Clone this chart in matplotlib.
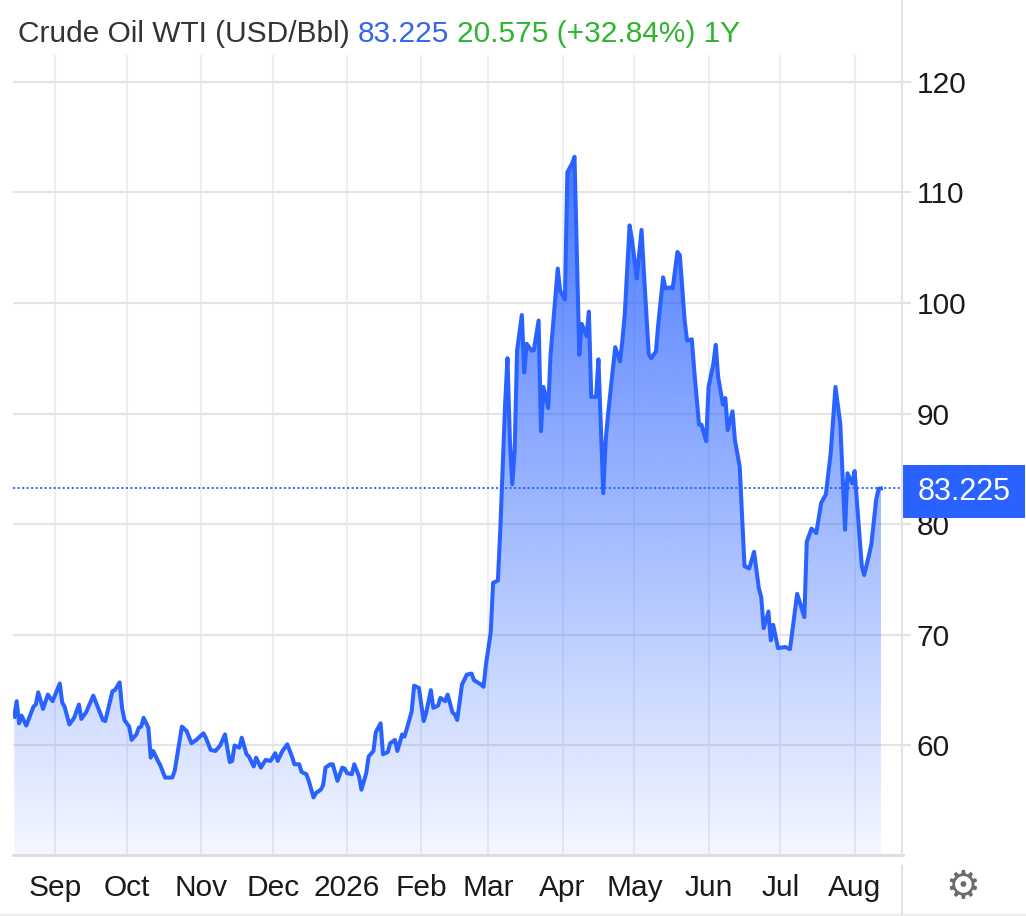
import numpy as np
import pandas as pd
import matplotlib
matplotlib.use("Agg")
import matplotlib.pyplot as plt
import matplotlib.dates as mdates
from matplotlib.transforms import blended_transform_factory
from matplotlib.patches import Rectangle
from matplotlib.lines import Line2D
from matplotlib.colors import to_rgb

plt.rcParams['font.family'] = ['Liberation Sans', 'DejaVu Sans']

# WTI crude, 1 year
dates = [
    "2025-08-15", "2025-08-16", "2025-08-17", "2025-08-18", "2025-08-20", "2025-08-23",
    "2025-08-24", "2025-08-25", "2025-08-27", "2025-08-29", "2025-08-31", "2025-09-03",
    "2025-09-04", "2025-09-05", "2025-09-07", "2025-09-09", "2025-09-11", "2025-09-12",
    "2025-09-14", "2025-09-17", "2025-09-19", "2025-09-21", "2025-09-22", "2025-09-25",
    "2025-09-26", "2025-09-28", "2025-09-29", "2025-09-30", "2025-10-02", "2025-10-03",
    "2025-10-05", "2025-10-06", "2025-10-07", "2025-10-08", "2025-10-10", "2025-10-11",
    "2025-10-12", "2025-10-14", "2025-10-15", "2025-10-17", "2025-10-18", "2025-10-20",
    "2025-10-21", "2025-10-24", "2025-10-26", "2025-10-28", "2025-10-30", "2025-11-02",
    "2025-11-03", "2025-11-05", "2025-11-07", "2025-11-09", "2025-11-11", "2025-11-13",
    "2025-11-14", "2025-11-15", "2025-11-17", "2025-11-18", "2025-11-20", "2025-11-21",
    "2025-11-23", "2025-11-24", "2025-11-26", "2025-11-28", "2025-11-30", "2025-12-02",
    "2025-12-03", "2025-12-05", "2025-12-07", "2025-12-09", "2025-12-10", "2025-12-12",
    "2025-12-13", "2025-12-15", "2025-12-16", "2025-12-18", "2025-12-19", "2025-12-21",
    "2025-12-22", "2025-12-23", "2025-12-25", "2025-12-26", "2025-12-28", "2025-12-30",
    "2025-12-31", "2026-01-01", "2026-01-03", "2026-01-04", "2026-01-06", "2026-01-07",
    "2026-01-09", "2026-01-10", "2026-01-12", "2026-01-13", "2026-01-15", "2026-01-16",
    "2026-01-18", "2026-01-19", "2026-01-21", "2026-01-22", "2026-01-24", "2026-01-25",
    "2026-01-27", "2026-01-28", "2026-01-29", "2026-01-31", "2026-02-02", "2026-02-03",
    "2026-02-05", "2026-02-06", "2026-02-08", "2026-02-09", "2026-02-11", "2026-02-12",
    "2026-02-14", "2026-02-15", "2026-02-16", "2026-02-18", "2026-02-20", "2026-02-22",
    "2026-02-23", "2026-02-26", "2026-02-27", "2026-02-28", "2026-03-02", "2026-03-03",
    "2026-03-05", "2026-03-06", "2026-03-08", "2026-03-09", "2026-03-10", "2026-03-11",
    "2026-03-12", "2026-03-13", "2026-03-15", "2026-03-16", "2026-03-17", "2026-03-19",
    "2026-03-20", "2026-03-22", "2026-03-23", "2026-03-24", "2026-03-26", "2026-03-27",
    "2026-03-29", "2026-03-30", "2026-03-31", "2026-04-02", "2026-04-03", "2026-04-05",
    "2026-04-06", "2026-04-08", "2026-04-09", "2026-04-11", "2026-04-12", "2026-04-13",
    "2026-04-15", "2026-04-16", "2026-04-18", "2026-04-19", "2026-04-20", "2026-04-23",
    "2026-04-25", "2026-04-26", "2026-04-27", "2026-04-29", "2026-04-30", "2026-05-02",
    "2026-05-04", "2026-05-05", "2026-05-07", "2026-05-08", "2026-05-10", "2026-05-11",
    "2026-05-13", "2026-05-14", "2026-05-16", "2026-05-17", "2026-05-19", "2026-05-20",
    "2026-05-22", "2026-05-23", "2026-05-25", "2026-05-26", "2026-05-28", "2026-05-29",
    "2026-05-31", "2026-06-01", "2026-06-03", "2026-06-04", "2026-06-05", "2026-06-07",
    "2026-06-08", "2026-06-09", "2026-06-11", "2026-06-12", "2026-06-14", "2026-06-15",
    "2026-06-16", "2026-06-18", "2026-06-20", "2026-06-22", "2026-06-23", "2026-06-24",
    "2026-06-26", "2026-06-27", "2026-06-28", "2026-06-30", "2026-07-03", "2026-07-05",
    "2026-07-08", "2026-07-11", "2026-07-12", "2026-07-14", "2026-07-16", "2026-07-18",
    "2026-07-20", "2026-07-22", "2026-07-24", "2026-07-26", "2026-07-28", "2026-07-29",
    "2026-07-31", "2026-08-01", "2026-08-04", "2026-08-05", "2026-08-07", "2026-08-08",
    "2026-08-10", "2026-08-11", "2026-08-12",
]
prices = [
    62.6, 64.0, 62.0, 62.7, 61.8, 63.5,
    63.7, 64.8, 63.3, 64.6, 64.0, 65.6,
    63.9, 63.5, 61.9, 62.5, 63.7, 62.4,
    63.0, 64.5, 63.4, 62.3, 62.2, 64.9,
    65.0, 65.7, 63.4, 62.3, 61.7, 60.5,
    61.0, 61.6, 61.7, 62.5, 61.6, 58.9,
    59.5, 58.6, 58.2, 57.1, 57.1, 57.1,
    57.7, 61.7, 61.3, 60.2, 60.5, 61.1,
    60.7, 59.6, 59.5, 60.0, 61.0, 58.5,
    58.6, 60.0, 59.8, 60.7, 59.2, 59.0,
    58.1, 58.9, 58.0, 58.7, 58.6, 59.3,
    58.6, 59.5, 60.1, 59.0, 58.3, 58.3,
    57.6, 57.4, 56.8, 55.3, 55.7, 56.0,
    56.4, 58.0, 58.3, 58.3, 56.8, 58.0,
    57.9, 57.5, 57.4, 58.3, 57.2, 56.0,
    57.5, 59.0, 59.5, 61.2, 62.0, 59.2,
    59.4, 60.2, 60.5, 59.5, 61.0, 60.8,
    62.3, 63.1, 65.4, 65.2, 62.2, 62.9,
    65.0, 63.4, 63.6, 64.3, 64.0, 64.6,
    63.0, 62.8, 62.3, 65.5, 66.4, 66.5,
    65.9, 65.5, 65.3, 67.3, 70.2, 74.7,
    74.9, 79.5, 90.8, 95.0, 87.6, 83.6,
    86.6, 95.7, 98.9, 93.7, 96.3, 95.7,
    95.7, 98.4, 88.4, 92.4, 90.5, 95.3,
    100.5, 103.1, 101.1, 100.3, 111.8, 112.6,
    113.2, 95.3, 98.1, 97.0, 99.2, 91.5,
    91.5, 94.9, 82.8, 87.5, 89.9, 96.0,
    94.7, 96.6, 99.0, 107.0, 105.7, 102.2,
    106.6, 102.7, 95.4, 95.0, 95.6, 98.1,
    102.3, 101.3, 101.4, 101.3, 104.6, 104.3,
    98.4, 96.6, 96.7, 93.9, 89.0, 89.0,
    87.5, 92.4, 94.5, 96.2, 93.3, 90.8,
    91.4, 88.5, 90.2, 87.6, 85.2, 80.7,
    76.2, 76.0, 77.5, 74.2, 73.4, 70.6,
    72.1, 69.5, 70.9, 68.8, 68.9, 68.7,
    73.7, 71.6, 78.4, 79.6, 79.2, 81.9,
    82.7, 86.4, 92.4, 89.1, 79.5, 84.6,
    83.7, 84.8, 76.2, 75.4, 77.2, 78.2,
    82.2, 83.2, 83.225,
]

tick_dates = ["2025-09-01", "2025-10-01", "2025-11-01", "2025-12-01", "2026-01-01", "2026-02-01",
              "2026-03-01", "2026-04-01", "2026-05-01", "2026-06-01", "2026-07-01", "2026-08-01"]
tick_labels = ["Sep", "Oct", "Nov", "Dec", "2026", "Feb", "Mar", "Apr", "May", "Jun", "Jul", "Aug"]
y_ticks = [60, 70, 80, 90, 100, 110, 120]

last_price = 83.225
title_parts = [("Crude Oil WTI (USD/Bbl)", "#333333"),
               ("83.225", "#3366ee"),
               ("20.575 (+32.84%) 1Y", "#2db52d")]

blue = "#2962ff"
W, H = 1026, 916

fig = plt.figure(figsize=(W / 100, H / 100), dpi=100)
ax = fig.add_axes([13 / W, 61 / H, 890 / W, 800 / H])

xnum = mdates.date2num(pd.to_datetime(dates))
ybot, ytop = 50.1, 122.4

# gradient fill under the line
poly = ax.fill_between(xnum, prices, ybot, facecolor="none", edgecolor="none")
g = np.linspace(0, 1, 256)
rgba = np.zeros((256, 1, 4))
rgba[..., :3] = to_rgb(blue)
rgba[..., 3] = (0.05 + 0.82 * g)[:, None]
im = ax.imshow(rgba, extent=[xnum.min(), xnum.max(), ybot, 113.5],
               origin="lower", aspect="auto", zorder=1, interpolation="bilinear")
im.set_clip_path(poly.get_paths()[0], ax.transData)

ax.plot(xnum, prices, color=blue, lw=2.9, solid_joinstyle="round", zorder=3)
ax.axhline(last_price, color=blue, lw=1.3, ls=(0, (1.2, 1.3)), zorder=2)

ax.set_xlim(mdates.date2num(pd.Timestamp("2025-08-14 11:00")),
            mdates.date2num(pd.Timestamp("2026-08-21 05:00")))
ax.set_ylim(ybot, ytop)

ax.set_xticks(mdates.date2num(pd.to_datetime(tick_dates)))
ax.set_xticklabels(tick_labels)
ax.set_yticks(y_ticks)
ax.yaxis.tick_right()
ax.tick_params(axis="x", length=0, pad=14, labelsize=21.5, labelcolor="#1a1a1a")
ax.tick_params(axis="y", length=6, width=1.5, color="#e2e2e2", pad=4,
               labelsize=21.5, labelcolor="#1a1a1a")

ax.set_axisbelow(True)
ax.grid(axis="y", color="#e4e4e4", lw=1.5)
ax.grid(axis="x", color="#eceef4", lw=1.5)
for s in ["top", "left", "right"]:
    ax.spines[s].set_visible(False)
ax.spines["bottom"].set_color("#dcdcdc")
ax.spines["bottom"].set_linewidth(2)

# last price box on the right axis
tr = blended_transform_factory(ax.transAxes, ax.transData)
box_h = 4.8
ax.add_patch(Rectangle((1.0, last_price - 2.7), 122 / 890, box_h, transform=tr,
                       facecolor=blue, edgecolor="none", clip_on=False, zorder=10))
ax.text(1.0 + 61 / 890, last_price - 0.3, f"{last_price:.3f}", transform=tr,
        color="white", fontsize=22, ha="center", va="center", zorder=11, clip_on=False)

# frame lines around the plot area
sep_x = 902 / W
fig.add_artist(Line2D([sep_x, sep_x], [1, 61 / H], color="#e3e3e3", lw=1.5))
fig.add_artist(Line2D([sep_x, sep_x], [50 / H, 0], color="#e3e3e3", lw=1.5))
fig.add_artist(Line2D([0, 1], [1.5 / H, 1.5 / H], color="#ececec", lw=1.5))

fig.text(963 / W, 1 - 887 / H, "\u2699", fontsize=28, color="#6b6b6b",
         ha="center", va="center", family="DejaVu Sans")

# title in coloured pieces
renderer = fig.canvas.get_renderer()
x = 18 / W
for txt, col in title_parts:
    t = fig.text(x, 1 - 42 / H, txt, color=col, fontsize=21.5, ha="left", va="baseline")
    bb = t.get_window_extent(renderer)
    x = (bb.x1 + 8) / W

fig.savefig("out.png", dpi=100)
